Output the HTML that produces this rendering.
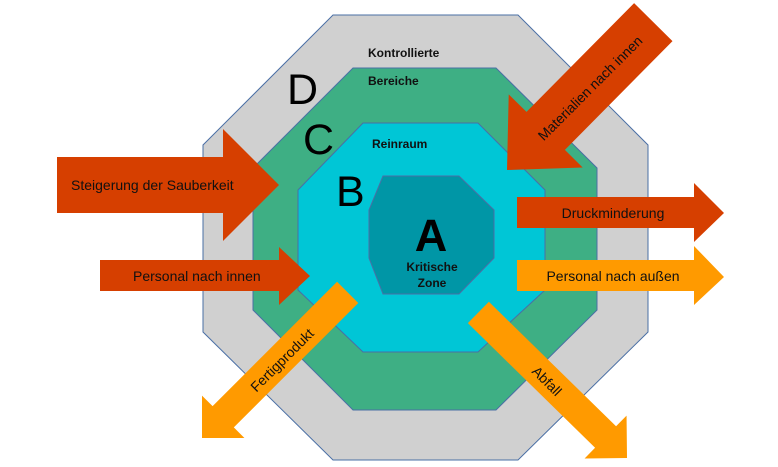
<!DOCTYPE html>
<html><head><meta charset="utf-8"><style>
html,body{margin:0;padding:0;background:#fff;}
svg{display:block;font-family:"Liberation Sans",sans-serif;}
</style></head><body>
<svg width="778" height="467" viewBox="0 0 778 467" xmlns="http://www.w3.org/2000/svg">
<polygon points="333,15 518,15 648,145 648,332 518,460 333,460 203,332 203,145" fill="#d0d0d0" stroke="#4a6fa5" stroke-width="1"/>
<polygon points="353,68 496,68 597,168 597,310 496,410 353,410 253,310 253,168" fill="#3eaf84" stroke="#4a6fa5" stroke-width="1"/>
<polygon points="363,123 478,123 545,190 545,290 478,352 363,352 298,290 298,190" fill="#00c6d6" stroke="#4a6fa5" stroke-width="1"/>
<polygon points="383,176 459,176 494,210 494,258 459,294 383,294 369,258 369,210" fill="#0096a6" stroke="#4a6fa5" stroke-width="1"/>

<g font-weight="bold" font-size="12" fill="#111">
<text x="368" y="57">Kontrollierte</text>
<text x="368" y="85">Bereiche</text>
<text x="372" y="148">Reinraum</text>
<text x="432" y="271" text-anchor="middle">Kritische</text>
<text x="432" y="287" text-anchor="middle">Zone</text>
</g>
<g font-size="43" fill="#000">
<text x="287" y="104">D</text>
<text x="303" y="154">C</text>
<text x="336" y="206">B</text>
</g>
<text x="431" y="251" font-size="45" font-weight="bold" text-anchor="middle" fill="#000">A</text>

<!-- left red arrows -->
<polygon points="57,157 223,157 223,129 279,185 223,241 223,213 57,213" fill="#d63f00"/>
<polygon points="100,260 279,260 279,247 310,276 279,305 279,291 100,291" fill="#d63f00"/>
<!-- right arrows -->
<polygon points="517,197 694,197 694,183 724,213 694,242 694,228 517,228" fill="#d63f00"/>
<polygon points="517,260 694,260 694,246 724,277 694,305 694,291 517,291" fill="#ff9a00"/>

<!-- diagonal arrows -->
<g transform="translate(507,170) rotate(-45.3)">
<polygon points="0,0 55,-52 55,-27 208,-27 208,27 55,27 55,52" fill="#d63f00" transform="scale(1,1)"/>
</g>
<g transform="translate(202,438) rotate(-45)">
<polygon points="0,0 30,-30 30,-15 206,-15 206,15 30,15 30,30" fill="#ff9a00"/>
</g>
<g transform="translate(627,458) rotate(-135.6)">
<polygon points="0,0 30,-30 30,-15 208,-15 208,15 30,15 30,30" fill="#ff9a00"/>
</g>

<g font-size="14" fill="#111">
<text x="71" y="190">Steigerung der Sauberkeit</text>
<text x="133" y="281">Personal nach innen</text>
<text x="613" y="218" text-anchor="middle">Druckminderung</text>
<text x="613" y="281" text-anchor="middle">Personal nach außen</text>
<text transform="translate(590,88) rotate(-45)" text-anchor="middle" dy="5">Materialien nach innen</text>
<text transform="translate(282,360) rotate(-45)" text-anchor="middle" dy="5">Fertigprodukt</text>
<text transform="translate(547,381) rotate(45)" text-anchor="middle" dy="5">Abfall</text>
</g>
</svg>
</body></html>
